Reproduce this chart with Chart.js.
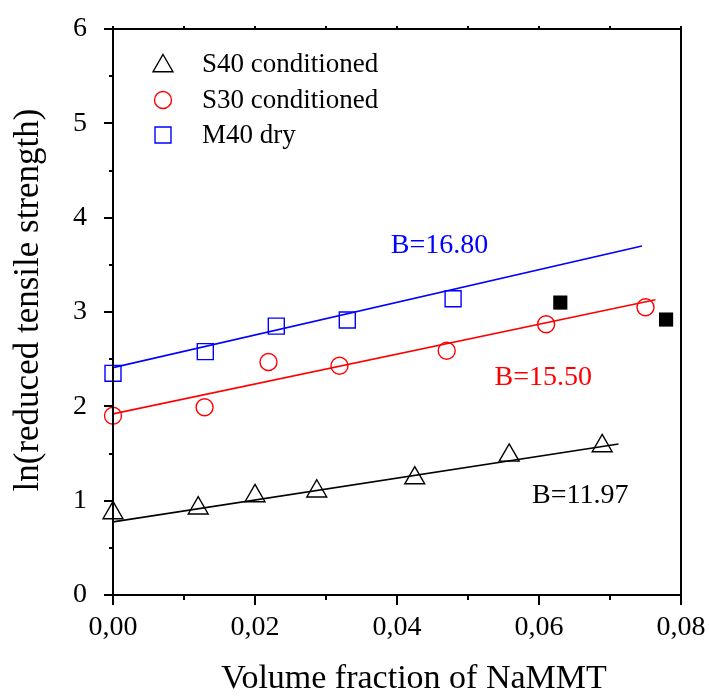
<html>
<head>
<script src="https://cdn.jsdelivr.net/npm/chart.js@4.4.0/dist/chart.umd.min.js"></script>
<style>
  body { margin: 0; background: #fff; }
</style>
</head>
<body>

<div style="width:709px;height:697px;position:relative">
    <canvas id="myChart" width="709" height="697"></canvas>
</div>

<script>
    // values
    const s40X = [0, 0.012, 0.020, 0.0287, 0.0425, 0.0558, 0.0689];
    const s40Y = [0.87, 0.92, 1.05, 1.10, 1.24, 1.48, 1.58];
    const s30X = [0, 0.0129, 0.0219, 0.0319, 0.0470, 0.0610, 0.0750];
    const s30Y = [1.90, 1.99, 2.47, 2.43, 2.59, 2.87, 3.05];
    const m40X = [0, 0.0130, 0.0230, 0.0330, 0.0479];
    const m40Y = [2.35, 2.58, 2.85, 2.915, 3.14];
    const extraX = [0.0630, 0.0779];
    const extraY = [3.10, 2.92];

    // fitted lines (end points)
    const s40FitX = [0, 0.0712];
    const s40FitY = [0.775, 1.60];
    const s30FitX = [0, 0.0764];
    const s30FitY = [1.92, 3.13];
    const m40FitX = [0, 0.0745];
    const m40FitY = [2.41, 3.70];

    const slopeLabels = ['B=11.97', 'B=15.50', 'B=16.80'];
    const slopeLabelX = [0.0658, 0.0606, 0.0460];
    const slopeLabelY = [1.05, 2.30, 3.70];

    const legendNames = ['S40 conditioned', 'S30 conditioned', 'M40 dry'];
    const xTickLabels = ['0,00', '0,02', '0,04', '0,06', '0,08'];
    const yTickLabels = ['0', '1', '2', '3', '4', '5', '6'];
    const xTitle = 'Volume fraction of NaMMT';
    const yTitle = 'ln(reduced tensile strength)';

    const serif = "'Liberation Serif', 'Times New Roman', serif";
    const colS40 = '#000000';
    const colS30 = '#ff0000';
    const colM40 = '#0000ff';

    function pts(xs, ys) {
        return xs.map((x, i) => ({ x: x, y: ys[i] }));
    }

    // frame, tick marks, legend, titles and B= labels
    const extras = {
        id: 'extras',
        afterDraw(chart) {
            const ctx = chart.ctx;
            const a = chart.chartArea;
            const x = chart.scales.x;
            const y = chart.scales.y;
            ctx.save();
            ctx.strokeStyle = '#000';
            ctx.lineWidth = 2;
            ctx.strokeRect(a.left, a.top, a.right - a.left, a.bottom - a.top);

            ctx.beginPath();
            for (let i = 0; i <= 12; i++) {
                const py = Math.round(y.getPixelForValue(i / 2));
                const len = i % 2 == 0 ? 9 : 4;
                ctx.moveTo(a.left, py);
                ctx.lineTo(a.left - len, py);
            }
            for (let i = 0; i <= 8; i++) {
                const px = Math.round(x.getPixelForValue(i / 100));
                const len = i % 2 == 0 ? 10 : 5;
                ctx.moveTo(px, a.bottom);
                ctx.lineTo(px, a.bottom + len);
                ctx.moveTo(px, a.top);
                ctx.lineTo(px, a.top - 3);
            }
            ctx.stroke();

            // legend
            const legendStyles = [
                { pointStyle: 'triangle', radius: 11.5, color: colS40 },
                { pointStyle: 'circle', radius: 8.5, color: colS30 },
                { pointStyle: 'rect', radius: 11.3, color: colM40 }
            ];
            const rows = [64, 100, 135];
            ctx.font = '27px ' + serif;
            ctx.textBaseline = 'middle';
            ctx.textAlign = 'left';
            legendNames.forEach((name, i) => {
                const st = legendStyles[i];
                ctx.strokeStyle = st.color;
                ctx.fillStyle = 'rgba(0,0,0,0)';
                ctx.lineWidth = 1.4;
                Chart.helpers.drawPoint(ctx, { pointStyle: st.pointStyle, radius: st.radius, rotation: 0, borderWidth: 1.4 }, 163, rows[i] + (st.pointStyle == 'triangle' ? 2 : 0));
                ctx.fillStyle = '#000';
                ctx.fillText(name, 202, rows[i] + 1);
            });

            // slope labels
            const labelColors = [colS40, colS30, colM40];
            ctx.font = '28px ' + serif;
            ctx.textAlign = 'center';
            slopeLabels.forEach((t, i) => {
                ctx.fillStyle = labelColors[i];
                ctx.fillText(t, x.getPixelForValue(slopeLabelX[i]), y.getPixelForValue(slopeLabelY[i]));
            });

            // axis titles
            ctx.fillStyle = '#000';
            ctx.textBaseline = 'alphabetic';
            ctx.font = '34px ' + serif;
            ctx.fillText(xTitle, 414, 688);
            ctx.translate(38, 300);
            ctx.rotate(-Math.PI / 2);
            ctx.font = '35px ' + serif;
            ctx.fillText(yTitle, 0, 0);
            ctx.restore();
        }
    };

    const ctx = document.getElementById('myChart').getContext('2d');

    const myChart = new Chart(ctx, {
        type: 'scatter',
        data: {
            datasets: [
                { data: pts(s40FitX, s40FitY), showLine: true, borderColor: colS40, borderWidth: 1.6, pointRadius: 0 },
                { data: pts(s30FitX, s30FitY), showLine: true, borderColor: colS30, borderWidth: 1.6, pointRadius: 0 },
                { data: pts(m40FitX, m40FitY), showLine: true, borderColor: colM40, borderWidth: 1.6, pointRadius: 0 },
                {
                    label: legendNames[0], data: pts(s40X, s40Y), clip: false,
                    pointStyle: 'triangle', pointRadius: 11.5, borderWidth: 1.4,
                    borderColor: colS40, backgroundColor: 'rgba(0,0,0,0)'
                },
                {
                    label: legendNames[1], data: pts(s30X, s30Y), clip: false,
                    pointStyle: 'circle', pointRadius: 8.5, borderWidth: 1.4,
                    borderColor: colS30, backgroundColor: 'rgba(0,0,0,0)'
                },
                {
                    label: legendNames[2], data: pts(m40X, m40Y), clip: false,
                    pointStyle: 'rect', pointRadius: 11.3, borderWidth: 1.4,
                    borderColor: colM40, backgroundColor: 'rgba(0,0,0,0)'
                },
                {
                    data: pts(extraX, extraY), clip: false,
                    pointStyle: 'rect', pointRadius: 10, borderWidth: 0,
                    borderColor: '#000', backgroundColor: '#000'
                }
            ]
        },
        options: {
            responsive: false,
            animation: false,
            events: [],
            layout: { padding: { top: 29, right: 28, left: 0, bottom: 0 } },
            plugins: { legend: { display: false }, tooltip: { enabled: false } },
            scales: {
                x: {
                    type: 'linear',
                    min: 0,
                    max: 0.08,
                    grid: { display: true, drawOnChartArea: false, drawTicks: false },
                    border: { display: false },
                    ticks: {
                        stepSize: 0.02,
                        padding: 16,
                        color: '#000',
                        font: { family: serif, size: 28 },
                        maxRotation: 0,
                        autoSkip: false,
                        callback: (v) => xTickLabels[Math.round(v / 0.02)]
                    },
                    afterFit(scale) {
                        scale.height = 102;
                        scale.paddingLeft = 0;
                        scale.paddingRight = 0;
                    }
                },
                y: {
                    type: 'linear',
                    min: 0,
                    max: 6,
                    grid: { display: true, drawOnChartArea: false, drawTicks: false },
                    border: { display: false },
                    ticks: {
                        stepSize: 1,
                        padding: 26,
                        color: '#000',
                        font: { family: serif, size: 28 },
                        callback: (v) => yTickLabels[Math.round(v)]
                    },
                    afterFit(scale) {
                        scale.width = 113;
                        scale.paddingTop = 0;
                        scale.paddingBottom = 0;
                    }
                }
            }
        },
        plugins: [extras]
    });
</script>
</body>
</html>
